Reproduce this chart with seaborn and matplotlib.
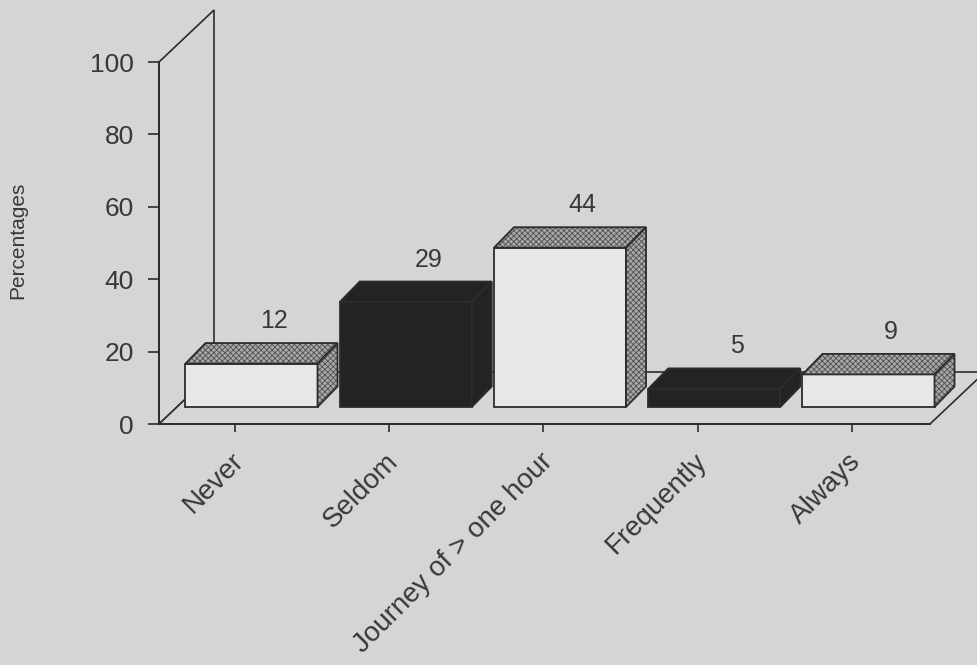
import matplotlib
matplotlib.use("Agg")
import matplotlib.pyplot as plt
import pandas as pd
import seaborn as sns
from matplotlib.patches import Polygon
from matplotlib.transforms import IdentityTransform, ScaledTranslation

# Survey answers (percent of respondents)
categories = ["Never", "Seldom", "Journey of > one hour", "Frequently", "Always"]
percentages = [12, 29, 44, 5, 9]
bar_styles = ["light", "dark", "light", "dark", "light"]
y_ticks = [0, 20, 40, 60, 80, 100]

BG = "#d5d5d5"
LIGHT = "#e7e7e7"
DARK = "#232323"
STIPPLE = "#a8a8a8"
STIPPLE_DOT = "#505050"
EDGE = "#2c2c2c"
TEXT = "#383838"

# pixel offsets that give the pseudo-3D look
FRONT = (16.5, 17.0)   # bars sit a little back from the floor's front edge
DEPTH = (20.0, 20.5)   # bar depth
FLOOR = (55.0, 52.0)   # depth of floor / side wall

sns.set_theme(style="white")
plt.rcParams["font.family"] = ["Liberation Sans", "DejaVu Sans"]
plt.rcParams["hatch.linewidth"] = 0.6

fig = plt.figure(figsize=(9.78, 6.65), dpi=100, facecolor=BG)
ax = fig.add_axes([159 / 978, 1 - 424 / 665, 771 / 978, 362 / 665])
ax.set_facecolor("none")

df = pd.DataFrame({"category": categories, "pct": percentages, "style": bar_styles})
sns.barplot(data=df, x="category", y="pct", hue="style",
            palette={"light": LIGHT, "dark": DARK}, width=0.856, dodge=False,
            legend=False, saturation=1, edgecolor=EDGE, linewidth=1.3, ax=ax)

ax.set_xlim(-0.4927, 4.5057)
ax.set_ylim(0, 100)
ax.set_xlabel("")
ax.set_ylabel("")


def shift(dx, dy):
    return ScaledTranslation(dx / 100, dy / 100, fig.dpi_scale_trans)


def px(x, y, ox=0.0, oy=0.0):
    p = ax.transData.transform((x, y))
    return (p[0] + ox, p[1] + oy)


def face(points, fill, z, hatch=None):
    if hatch:
        ax.add_patch(Polygon(points, closed=True, transform=IdentityTransform(),
                             facecolor=fill, edgecolor=STIPPLE_DOT, hatch=hatch,
                             linewidth=0, zorder=z, clip_on=False))
        ax.add_patch(Polygon(points, closed=True, transform=IdentityTransform(),
                             facecolor="none", edgecolor=EDGE, linewidth=1.3,
                             zorder=z + 0.01, clip_on=False))
    else:
        ax.add_patch(Polygon(points, closed=True, transform=IdentityTransform(),
                             facecolor=fill, edgecolor=EDGE, linewidth=1.3,
                             zorder=z, clip_on=False, joinstyle="miter"))


# side wall and floor outline
x0, x1 = ax.get_xlim()
wall = [px(x0, 0), px(x0, 100), px(x0, 100, *FLOOR), px(x0, 0, *FLOOR)]
floor = [px(x0, 0), px(x1, 0), px(x1, 0, *FLOOR), px(x0, 0, *FLOOR)]
for poly in (wall, floor):
    ax.add_patch(Polygon(poly, closed=True, transform=IdentityTransform(),
                         facecolor=BG, edgecolor=EDGE, linewidth=1.2,
                         zorder=0.5, clip_on=False))

# front faces come from seaborn; add top and side faces
bars = sorted(ax.patches[:len(categories)], key=lambda p: p.get_x())
for i, p in enumerate(bars):
    p.set_transform(ax.transData + shift(*FRONT))
    p.set_zorder(2 + i)
    p.set_clip_on(False)
    bx, bw, bh = p.get_x(), p.get_width(), p.get_height()
    dark = bar_styles[i] == "dark"
    fx, fy = FRONT
    dx, dy = DEPTH
    tl = px(bx, bh, fx, fy)
    tr = px(bx + bw, bh, fx, fy)
    br = px(bx + bw, 0, fx, fy)
    top = [tl, tr, (tr[0] + dx, tr[1] + dy), (tl[0] + dx, tl[1] + dy)]
    side = [br, tr, (tr[0] + dx, tr[1] + dy), (br[0] + dx, br[1] + dy)]
    if dark:
        face(top, DARK, 2 + i + 0.1)
        face(side, DARK, 2 + i + 0.1)
    else:
        face(top, STIPPLE, 2 + i + 0.1, hatch="xxxxxx")
        face(side, STIPPLE, 2 + i + 0.1, hatch="xxxxxx")
    # value label above the bar
    ax.text(i, percentages[i], str(percentages[i]),
            transform=ax.transData + shift(39, FRONT[1] + DEPTH[1] + 22),
            ha="center", va="center", fontsize=18, color=TEXT, zorder=10,
            clip_on=False)

# axes
for side_name in ("top", "right"):
    ax.spines[side_name].set_visible(False)
for side_name in ("left", "bottom"):
    ax.spines[side_name].set_color(EDGE)
    ax.spines[side_name].set_linewidth(1.3)
    ax.spines[side_name].set_zorder(1)

ax.set_yticks(y_ticks)
ax.set_yticklabels([str(t) for t in y_ticks], fontsize=19, color=TEXT)
ax.tick_params(axis="y", direction="out", length=8, width=1.2, color=EDGE, pad=10, left=True)
ax.set_xticks(range(len(categories)))
ax.set_xticklabels([])
ax.tick_params(axis="x", direction="out", length=6, width=1.2, color=EDGE, bottom=True)
ax.grid(False)

for i, cat in enumerate(categories):
    ax.text(i, 0, cat, transform=ax.get_xaxis_transform() + shift(-4, -24),
            rotation=45, rotation_mode="anchor", ha="right", va="top",
            fontsize=20, color=TEXT, clip_on=False)

fig.text(18 / 978, 1 - 240 / 665, "Percentages", rotation=90,
         ha="center", va="center", fontsize=15, color=TEXT)

fig.savefig("out.png", dpi=100, facecolor=BG)
